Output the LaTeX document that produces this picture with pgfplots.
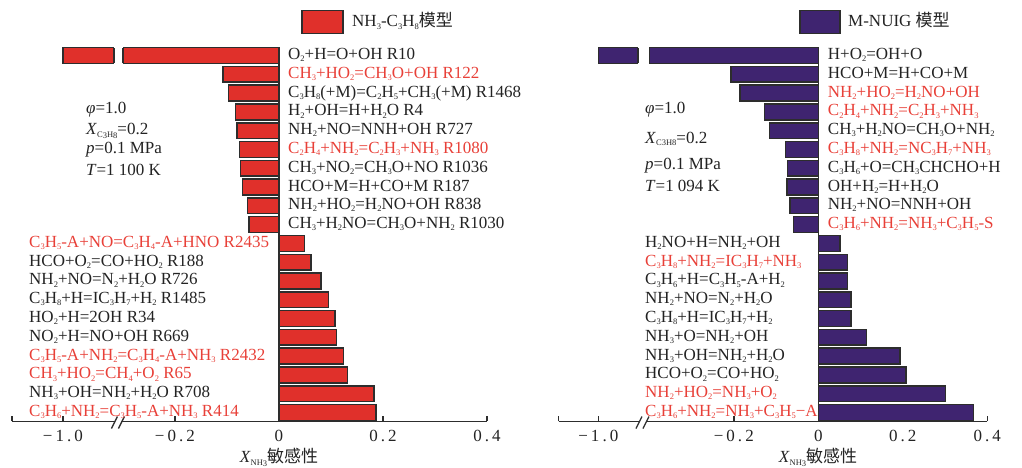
\documentclass[border=0pt]{standalone}
\usepackage{pgfplots}
\pgfplotsset{compat=1.18}
\usepackage{fontspec}
\setmainfont{Liberation Serif}
\newfontfamily\cjk{Noto Sans CJK SC}
\newfontfamily\tickfont[LetterSpace=18]{Liberation Serif}
\definecolor{barred}{RGB}{224,48,43}
\definecolor{barpur}{RGB}{63,36,112}
\definecolor{txtred}{RGB}{232,64,56}
\definecolor{txtblk}{RGB}{35,35,35}
\definecolor{edge}{RGB}{45,45,45}
\newcommand\s[1]{\raisebox{-0.28ex}{\fontsize{8.5}{8.5}\selectfont#1}}
\newcommand\lfont{\fontsize{17}{17}\selectfont}
% #1 x (px), #2 bar index (1 = top), #3 colour, #4 text
\newcommand\lab[4]{\node[anchor=base west,inner sep=0pt,text=#3,font=\lfont] at ({#1},{412.5-(#2-1)*18.79-4}) {#4};}
\begin{document}
\begin{tikzpicture}[x=1pt,y=1pt]
\useasboundingbox (0,0) rectangle (1022,468);

% ---------------- left panel ----------------
\begin{axis}[at={(12pt,46.5pt)}, anchor=south west, scale only axis,
  width=475pt, height=375.4pt,
  x coord trafo/.code={\pgfmathparse{#1<-0.55 ? -0.4154+(#1+1)*0.49 : #1}},
  xmin=-1.2, xmax=0.4, ymin=0.521, ymax=20.5,
  axis x line*=bottom, axis y line=none,
  xtick={-1.2,-1.0,-0.2,0,0.2,0.4}, xticklabels={,−1.0,−0.2,0,0.2,0.4},
  tick align=inside, major tick length=5pt,
  tick style={edge,line width=1.5pt}, axis line style={edge,line width=1.5pt},
  xticklabel style={font=\tickfont\fontsize{17}{17}\selectfont, text=txtblk, yshift=-5pt},
  xbar, bar width=0.84, clip=false]
\addplot[fill=barred, draw=edge, line width=1.5pt] coordinates {
(-1.0,20) (-0.108,19) (-0.097,18) (-0.084,17) (-0.081,16)
(-0.076,15) (-0.074,14) (-0.070,13) (-0.061,12) (-0.058,11)
(0.049,10) (0.0615,9) (0.081,8) (0.095,7) (0.108,6)
(0.111,5) (0.124,4) (0.132,3) (0.183,2) (0.187,1)};
\draw[edge,line width=1.5pt] (axis cs:0,0.521) -- (axis cs:0,20.42);
\fill[white] (axis cs:-0.8,19.4) rectangle (axis cs:-0.3,20.6);
\draw[edge,line width=1.5pt] (axis cs:-0.8,19.58) -- (axis cs:-0.8,20.42)
  (axis cs:-0.3,19.58) -- (axis cs:-0.3,20.42);
\fill[white] ([xshift=-3pt,yshift=-1.5pt]axis cs:-0.3087,0.521) rectangle ([xshift=3pt,yshift=1.5pt]axis cs:-0.3087,0.521);
\draw[edge,line width=1.3pt] ([xshift=-7pt,yshift=-7pt]axis cs:-0.3087,0.521) -- ++(6pt,12pt)
  ([xshift=0pt,yshift=-7pt]axis cs:-0.3087,0.521) -- ++(6pt,12pt);
\end{axis}

% ---------------- right panel ----------------
\begin{axis}[at={(558.6pt,46.5pt)}, anchor=south west, scale only axis,
  width=428.7pt, height=375.4pt,
  x coord trafo/.code={\pgfmathparse{#1<-0.6 ? -0.5207+(#1+1)*0.47 : #1}},
  xmin=-1.2, xmax=0.4, ymin=0.521, ymax=20.5,
  axis x line*=bottom, axis y line=none,
  xtick={-1.2,-1.0,-0.2,0,0.2,0.4}, xticklabels={,−1.0,−0.2,0,0.2,0.4},
  tick align=inside, major tick length=5pt,
  tick style={edge,line width=1.5pt}, axis line style={edge,line width=1.5pt},
  xticklabel style={font=\tickfont\fontsize{17}{17}\selectfont, text=txtblk, yshift=-5pt},
  xbar, bar width=0.84, clip=false]
\addplot[fill=barpur, draw=edge, line width=1.5pt] coordinates {
(-1.0,20) (-0.2066,19) (-0.185,18) (-0.127,17) (-0.116,16)
(-0.078,15) (-0.073,14) (-0.074,13) (-0.067,12) (-0.059,11)
(0.051,10) (0.0696,9) (0.069,8) (0.0774,7) (0.077,6)
(0.1145,5) (0.193,4) (0.207,3) (0.3015,2) (0.367,1)};
\draw[edge,line width=1.5pt] (axis cs:0,0.521) -- (axis cs:0,20.42);
\fill[white] (axis cs:-0.8,19.4) rectangle (axis cs:-0.4,20.6);
\draw[edge,line width=1.5pt] (axis cs:-0.8,19.58) -- (axis cs:-0.8,20.42)
  (axis cs:-0.4,19.58) -- (axis cs:-0.4,20.42);
\fill[white] ([xshift=-3pt,yshift=-1.5pt]axis cs:-0.415,0.521) rectangle ([xshift=3pt,yshift=1.5pt]axis cs:-0.415,0.521);
\draw[edge,line width=1.3pt] ([xshift=-7pt,yshift=-7pt]axis cs:-0.415,0.521) -- ++(6pt,12pt)
  ([xshift=0pt,yshift=-7pt]axis cs:-0.415,0.521) -- ++(6pt,12pt);
\end{axis}

% ---------------- left labels ----------------
\lab{288}{1}{txtblk}{O\s2+H=O+OH R10}
\lab{288}{2}{txtred}{CH\s3+HO\s2=CH\s3O+OH R122}
\lab{288}{3}{txtblk}{C\s3H\s8(+M)=C\s2H\s5+CH\s3(+M) R1468}
\lab{288}{4}{txtblk}{H\s2+OH=H+H\s2O R4}
\lab{288}{5}{txtblk}{NH\s2+NO=NNH+OH R727}
\lab{288}{6}{txtred}{C\s2H\s4+NH\s2=C\s2H\s3+NH\s3 R1080}
\lab{288}{7}{txtblk}{CH\s3+NO\s2=CH\s3O+NO R1036}
\lab{288}{8}{txtblk}{HCO+M=H+CO+M R187}
\lab{288}{9}{txtblk}{NH\s2+HO\s2=H\s2NO+OH R838}
\lab{288}{10}{txtblk}{CH\s3+H\s2NO=CH\s3O+NH\s2 R1030}
\lab{29}{11}{txtred}{C\s3H\s5-A+NO=C\s3H\s4-A+HNO R2435}
\lab{29}{12}{txtblk}{HCO+O\s2=CO+HO\s2 R188}
\lab{29}{13}{txtblk}{NH\s2+NO=N\s2+H\s2O R726}
\lab{29}{14}{txtblk}{C\s3H\s8+H=IC\s3H\s7+H\s2 R1485}
\lab{29}{15}{txtblk}{HO\s2+H=2OH R34}
\lab{29}{16}{txtblk}{NO\s2+H=NO+OH R669}
\lab{29}{17}{txtred}{C\s3H\s5-A+NH\s2=C\s3H\s4-A+NH\s3 R2432}
\lab{29}{18}{txtred}{CH\s3+HO\s2=CH\s4+O\s2 R65}
\lab{29}{19}{txtblk}{NH\s3+OH=NH\s2+H\s2O R708}
\lab{29}{20}{txtred}{C\s3H\s6+NH\s2=C\s3H\s5-A+NH\s3 R414}

% ---------------- right labels ----------------
\lab{827.7}{1}{txtblk}{H+O\s2=OH+O}
\lab{827.7}{2}{txtblk}{HCO+M=H+CO+M}
\lab{827.7}{3}{txtred}{NH\s2+HO\s2=H\s2NO+OH}
\lab{827.7}{4}{txtred}{C\s2H\s4+NH\s2=C\s2H\s3+NH\s3}
\lab{827.7}{5}{txtblk}{CH\s3+H\s2NO=CH\s3O+NH\s2}
\lab{827.7}{6}{txtred}{C\s3H\s8+NH\s2=NC\s3H\s7+NH\s3}
\lab{827.7}{7}{txtblk}{C\s3H\s6+O=CH\s3CHCHO+H}
\lab{827.7}{8}{txtblk}{OH+H\s2=H+H\s2O}
\lab{827.7}{9}{txtblk}{NH\s2+NO=NNH+OH}
\lab{827.7}{10}{txtred}{C\s3H\s6+NH\s2=NH\s3+C\s3H\s5-S}
\lab{645}{11}{txtblk}{H\s2NO+H=NH\s2+OH}
\lab{645}{12}{txtred}{C\s3H\s8+NH\s2=IC\s3H\s7+NH\s3}
\lab{645}{13}{txtblk}{C\s3H\s6+H=C\s3H\s5-A+H\s2}
\lab{645}{14}{txtblk}{NH\s2+NO=N\s2+H\s2O}
\lab{645}{15}{txtblk}{C\s3H\s8+H=IC\s3H\s7+H\s2}
\lab{645}{16}{txtblk}{NH\s3+O=NH\s2+OH}
\lab{645}{17}{txtblk}{NH\s3+OH=NH\s2+H\s2O}
\lab{645}{18}{txtblk}{HCO+O\s2=CO+HO\s2}
\lab{645}{19}{txtred}{NH\s2+HO\s2=NH\s3+O\s2}
\lab{645}{20}{txtred}{C\s3H\s6+NH\s2=NH\s3+C\s3H\s5−A}

% ---------------- legends ----------------
\draw[edge,line width=1.5pt,fill=barred] (302,457.3) rectangle (343,434.7);
\node[anchor=base west,inner sep=0pt,text=txtblk,font=\lfont] at (352,441) {NH\s3-C\s3H\s8{\cjk 模型}};
\draw[edge,line width=1.5pt,fill=barpur] (800,457.3) rectangle (840,434.7);
\node[anchor=base west,inner sep=0pt,text=txtblk,font=\lfont] at (848,441) {M-NUIG {\cjk 模型}};

% ---------------- conditions ----------------
\begin{scope}[every node/.style={anchor=base west,inner sep=0pt,text=txtblk,font=\lfont}]
\node at (86,{468-113.3}) {\textit{φ}=1.0};
\node at (86,{468-135}) {\textit{X}\s{C\s3H\s8}=0.2};
\node at (86,{468-153.3}) {\textit{p}=0.1 MPa};
\node at (86,{468-176}) {\textit{T}=1 100 K};
\node at (645,{468-114}) {\textit{φ}=1.0};
\node at (645,{468-143.3}) {\textit{X}\s{C3H8}=0.2};
\node at (645,{468-170}) {\textit{p}=0.1 MPa};
\node at (645,{468-191.7}) {\textit{T}=1 094 K};
\end{scope}

% ---------------- x labels ----------------
\node[inner sep=0pt,text=txtblk,font=\lfont] at (279,10.5) {\textit{X}\s{NH\s3}{\cjk 敏感性}};
\node[inner sep=0pt,text=txtblk,font=\lfont] at (818,10.5) {\textit{X}\s{NH\s3}{\cjk 敏感性}};
\end{tikzpicture}
\end{document}
